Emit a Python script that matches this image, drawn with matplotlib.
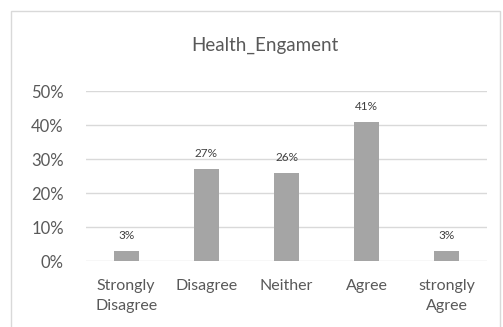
import matplotlib.pyplot as plt
from matplotlib.patches import Rectangle
from matplotlib.ticker import PercentFormatter

categories = ["Strongly\nDisagree", "Disagree", "Neither", "Agree", "strongly\nAgree"]
shares = [0.03, 0.27, 0.26, 0.41, 0.03]
label_text = ["3%", "27%", "26%", "41%", "3%"]
yticks = [0, 0.1, 0.2, 0.3, 0.4, 0.5]

plt.rcParams['font.family'] = ['Lato', 'DejaVu Sans']
text_grey = "#595959"

fig = plt.figure(figsize=(5.03, 3.27), dpi=100)
# outer chart frame
fig.patches.append(Rectangle((11 / 503, -0.05), 489 / 503, 1.05 - 11 / 327,
                             transform=fig.transFigure, fill=False,
                             edgecolor="#D9D9D9", linewidth=1.0))

ax = fig.add_axes([86 / 503, 1 - 261 / 327, 401 / 503, 170 / 327])
x = range(len(categories))
bars = ax.bar(x, shares, width=0.31, color="#A5A5A5", zorder=3)

for b, t in zip(bars, label_text):
    ax.annotate(t, (b.get_x() + b.get_width() / 2, b.get_height()),
                xytext=(0, 7), textcoords="offset points",
                ha="center", va="bottom", fontsize=8.5, color="#404040")

ax.set_xlim(-0.5, len(categories) - 0.5)
ax.set_ylim(0, 0.5)
ax.set_yticks(yticks)
ax.yaxis.set_major_formatter(PercentFormatter(1.0, decimals=0))
ax.set_xticks(list(x))
ax.set_xticklabels(categories, fontsize=11.5, color=text_grey, linespacing=1.55)
ax.tick_params(axis="y", labelsize=12, labelcolor=text_grey, length=0, pad=16)
ax.tick_params(axis="x", length=0, pad=13)
ax.grid(axis="y", color="#D9D9D9", linewidth=1.0, zorder=0)
for s in ax.spines.values():
    s.set_visible(False)

fig.text(265 / 503, 1 - 45 / 327, "Health_Engament", ha="center", va="center",
         fontsize=13.5, color=text_grey)

fig.savefig("out.png", dpi=100)
